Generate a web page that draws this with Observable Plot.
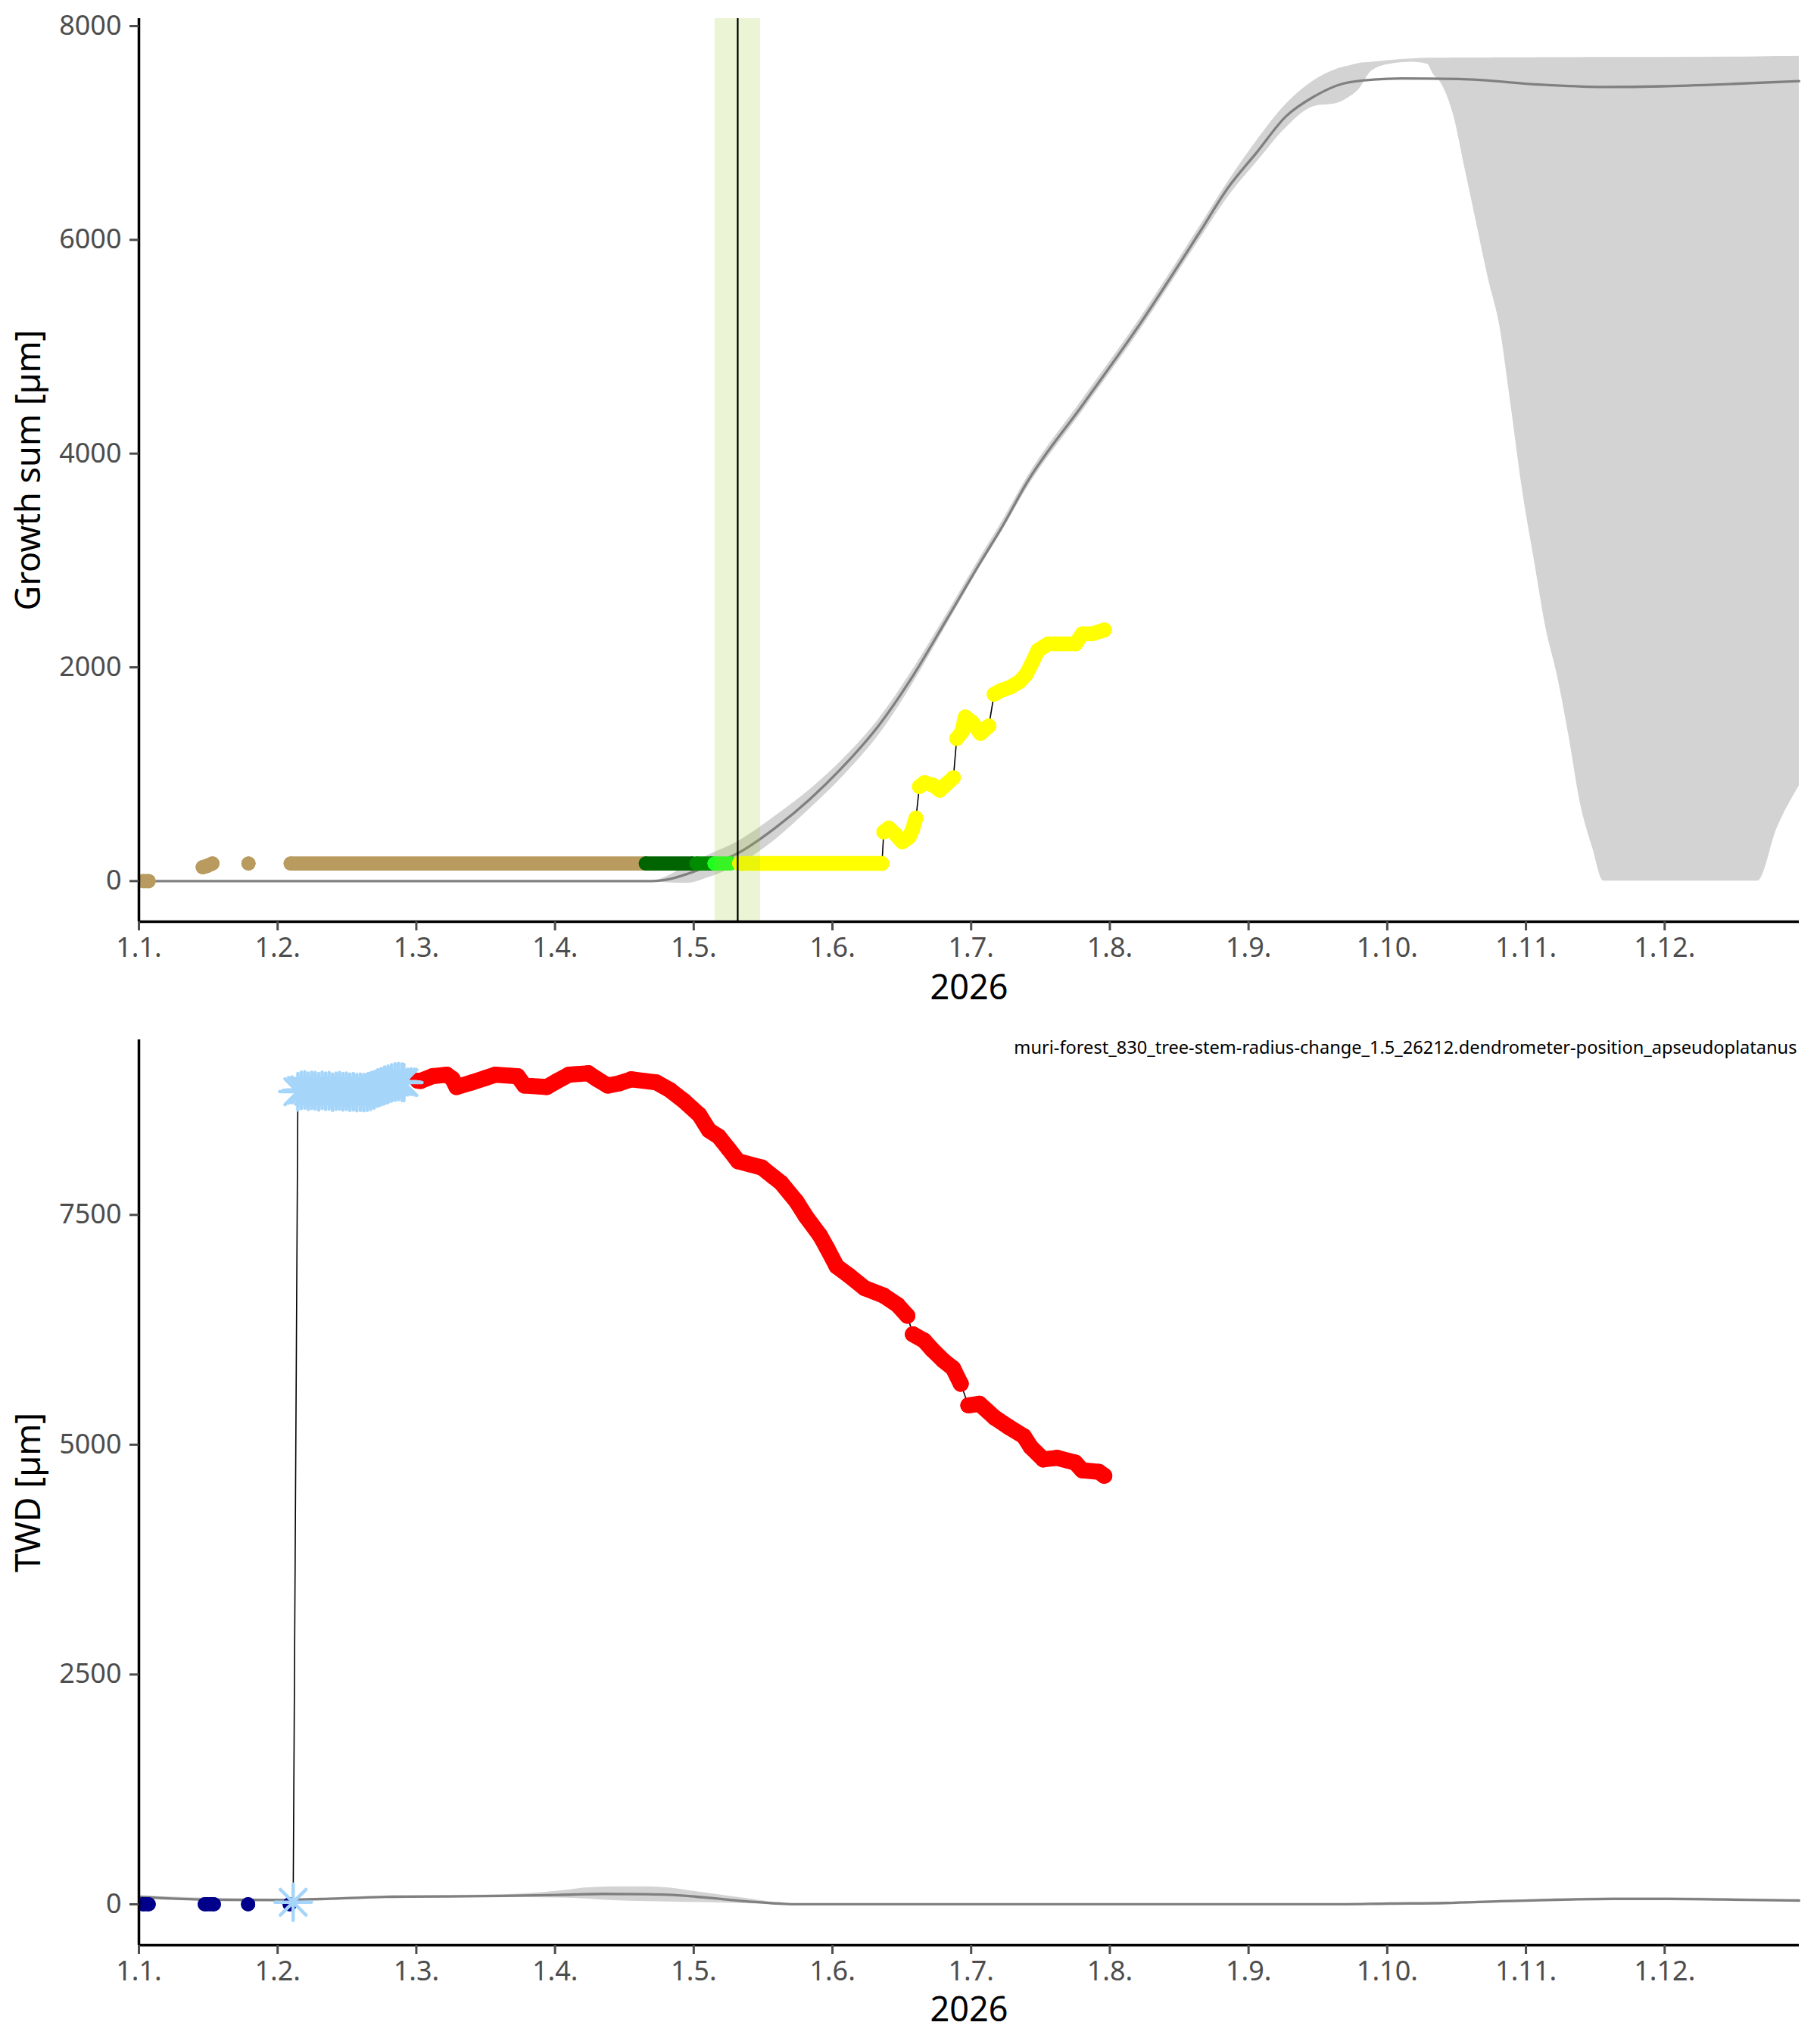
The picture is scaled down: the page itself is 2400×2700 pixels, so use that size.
<!DOCTYPE html>
<html>
<head>
<meta charset="utf-8">
<script src="https://cdn.jsdelivr.net/npm/d3@7"></script>
<script src="https://cdn.jsdelivr.net/npm/@observablehq/plot@0.6"></script>
<style>
  body { margin: 0; background: #fff; }
  #chart svg { display: block; }
</style>
</head>
<body>
<div id="chart"></div>
<script>
// ---------- shared x axis (month index, 0 = 1 Jan) ----------
const xTickValues = [0, 1, 2, 3, 4, 5, 6, 7, 8, 9, 10, 11];
const xTickLabels = ["1.1.", "1.2.", "1.3.", "1.4.", "1.5.", "1.6.", "1.7.", "1.8.", "1.9.", "1.10.", "1.11.", "1.12."];
const xTitle = "2026";

// ---------- top panel: growth sum ----------
const growthTitle = "Growth sum [µm]";
const growthTicks = [0, 2000, 4000, 6000, 8000];
const growthMean = [[0,0],[3.70,0],[3.80,12],[3.96,70],[4.10,140],[4.317,260],[4.60,510],[4.84,770],[5.09,1090],[5.33,1450],[5.58,1920],[5.82,2440],[6.07,2990],[6.23,3330],[6.39,3703],[6.81,4467],[7.22,5219],[7.64,6056],[7.85,6484],[8.06,6820],[8.27,7156],[8.47,7340],[8.68,7462],[8.90,7500],[9.10,7511],[9.52,7505],[10.14,7450],[10.56,7431],[10.98,7437],[11.50,7460],[11.97,7486]];
const growthBand = [[3.72,0,0],[3.80,-15,40],[3.96,-20,150],[4.10,30,240],[4.317,150,370],[4.60,400,620],[4.84,680,860],[5.09,1000,1160],[5.33,1360,1510],[5.58,1850,1980],[5.82,2390,2490],[6.07,2950,3040],[6.23,3290,3380],[6.39,3650,3750],[6.81,4410,4520],[7.22,5160,5270],[7.64,5990,6110],[7.85,6400,6540],[8.06,6730,6930],[8.27,7050,7270],[8.47,7248,7490],[8.64,7279,7600],[8.73,7340,7630],[8.79,7400,7650],[8.89,7584,7663],[9.02,7645,7680],[9.18,7663,7694],[9.29,7645,7700],[9.33,7554,7700],[9.39,7462,7700],[9.48,7156,7702],[9.56,6667,7702],[9.64,6178,7703],[9.73,5629,7703],[9.81,5201,7704],[9.89,4467,7704],[9.98,3612,7705],[10.06,3000,7705],[10.14,2390,7706],[10.23,1900,7706],[10.31,1350,7707],[10.39,740,7707],[10.48,312,7708],[10.56,0,7708],[11.67,0,7714],[11.81,495,7716],[11.97,892,7719]];
const growthDormant = [[[0.03,0],[0.07,0]], [[0.46,130],[0.49,142],[0.53,165]], [[0.79,165]], [[1.094,165],[3.64,165]]];
const growthPhase1 = [[[3.655,165],[3.99,165]]];
const growthPhase2 = [[[4.02,165],[4.13,165]]];
const growthPhase3 = [[[4.15,165],[4.265,165]]];
const growthActive = [
  [[4.33,165],[5.357,165]],
  [[5.370,460],[5.406,496],[5.455,437],[5.504,366],[5.553,413],[5.578,484],[5.602,590]],
  [[5.627,885],[5.663,921],[5.725,897],[5.774,850],[5.822,909],[5.872,968]],
  [[5.896,1334],[5.933,1393],[5.957,1535],[6.006,1488],[6.067,1381],[6.128,1452]],
  [[6.165,1748],[6.214,1783],[6.288,1818],[6.349,1866],[6.398,1936],[6.435,2031],[6.483,2161],[6.557,2220],[6.655,2220],[6.753,2220],[6.802,2314],[6.875,2314],[6.961,2350]]
];
const onsetWindow = [4.153, 4.481];
const onsetDate = [4.317];

// ---------- bottom panel: TWD ----------
const twdTitle = "TWD [µm]";
const twdTicks = [0, 2500, 5000, 7500];
const twdLabel = "muri-forest_830_tree-stem-radius-change_1.5_26212.dendrometer-position_apseudoplatanus";
const twdMean = [[0,82],[0.23,63],[0.63,49],[0.99,47],[1.43,63],[1.83,82],[2.23,85],[2.62,91],[3.02,102],[3.34,113],[3.66,110],[3.82,104],[4.02,82],[4.22,55],[4.42,27],[4.62,8],[4.74,0],[8.60,0],[9.02,8],[9.42,14],[9.82,33],[10.22,49],[10.62,58],[11.02,58],[11.42,52],[11.97,41]];
const twdBand = [[0,72,92],[0.99,38,56],[1.83,72,92],[2.62,75,105],[3.02,69,143],[3.22,60,178],[3.42,41,192],[3.66,30,192],[3.82,27,178],[4.02,20,137],[4.22,14,96],[4.42,5,55],[4.62,0,14],[4.74,0,0],[8.60,0,2],[9.42,6,22],[9.82,22,44],[10.22,38,60],[10.62,46,72],[11.02,46,72],[11.42,40,65],[11.97,30,52]];
const twdEarly = [[[0.03,0],[0.07,0]], [[0.475,0],[0.54,0]], [[0.787,0]], [[1.087,0]]];
const twdStars = [[1.112,22],[1.146,8840],[1.171,8855],[1.196,8860],[1.221,8845],[1.246,8855],[1.271,8850],[1.296,8840],[1.321,8855],[1.346,8845],[1.371,8850],[1.396,8835],[1.421,8845],[1.446,8850],[1.471,8840],[1.496,8845],[1.521,8835],[1.546,8840],[1.571,8830],[1.596,8835],[1.621,8830],[1.646,8835],[1.671,8845],[1.696,8860],[1.721,8880],[1.746,8895],[1.771,8910],[1.796,8920],[1.821,8935],[1.846,8945],[1.871,8950],[1.896,8945],[1.91,8940]];
const twdRed = [
  [[2.01,8960],[2.03,8957],[2.12,9010],[2.22,9025],[2.26,8980],[2.29,8891],[2.40,8941],[2.50,8990],[2.57,9025],[2.73,9009],[2.78,8907],[2.94,8891],[3.02,8960],[3.10,9025],[3.24,9041],[3.30,8980],[3.38,8907],[3.46,8930],[3.55,8975],[3.73,8941],[3.83,8857],[3.93,8739],[4.04,8588],[4.11,8420],[4.18,8352],[4.25,8220],[4.32,8084],[4.49,8016],[4.63,7848],[4.74,7647],[4.81,7480],[4.91,7277],[4.96,7142],[5.03,6941],[5.12,6840],[5.23,6705],[5.37,6622],[5.47,6520],[5.54,6403]],
  [[5.58,6201],[5.66,6134],[5.72,6033],[5.80,5915],[5.87,5831],[5.925,5663]],
  [[5.98,5428],[6.06,5445],[6.17,5294],[6.27,5193],[6.38,5092],[6.43,4975],[6.52,4840],[6.62,4857],[6.75,4806],[6.80,4722],[6.92,4705],[6.96,4662]]
];

// ---------- helpers ----------
const FONT = "'Noto Sans', 'Open Sans', sans-serif";
const pairsToRows = (pairs) => pairs.map(([m, v]) => ({m, v}));
const bandToRows = (rows) => rows.map(([m, lo, hi]) => ({m, lo, hi}));
const segRows = (segs, key) => segs.flatMap((s, i) => s.map(([m, v]) => ({m, v, seg: key + i})));

function series(segs, color, key, r) {
  const rows = segRows(segs, key);
  return [
    Plot.line(rows, {x: "m", y: "v", z: "seg", stroke: color, strokeWidth: 2 * r, strokeLinecap: "round", strokeLinejoin: "round", clip: true}),
    Plot.dot(rows, {x: "m", y: "v", r, fill: color, clip: true})
  ];
}

function frameMarks(yDomain, yTicks, yTitle, titleDy) {
  return [
    Plot.ruleX([0], {stroke: "black", strokeWidth: 3.5}),
    Plot.ruleY([yDomain[0]], {stroke: "black", strokeWidth: 3.5}),
    Plot.axisX({ticks: xTickValues, tickFormat: (d) => xTickLabels[d], tickSize: 12, tickPadding: 9, fontSize: 36, color: "#4D4D4D", strokeWidth: 3, label: null}),
    Plot.axisY({ticks: yTicks, tickFormat: (d) => String(d), tickSize: 12, tickPadding: 11, fontSize: 36, color: "#4D4D4D", strokeWidth: 3, label: null}),
    Plot.text([yTitle], {text: (d) => d, frameAnchor: "left", dx: -145, rotate: -90, fontSize: 45, textAnchor: "middle", lineAnchor: "middle", fill: "black"}),
    Plot.text([xTitle], {text: (d) => d, frameAnchor: "bottom", dy: titleDy, fontSize: 45, textAnchor: "middle", lineAnchor: "middle", fill: "black"})
  ];
}

// ---------- top plot ----------
const yTop = [-380, 8071];
const activeRows = segRows(growthActive, "a");
const topChart = Plot.plot({
  width: 2400, height: 1340,
  marginLeft: 183, marginRight: 24, marginTop: 24, marginBottom: 123,
  x: {domain: [0, 11.97]},
  y: {domain: yTop},
  style: {fontFamily: FONT, background: "white", overflow: "visible"},
  marks: [
    Plot.areaY(bandToRows(growthBand), {x: "m", y1: "lo", y2: "hi", fill: "#D3D3D3", curve: "monotone-x", clip: true}),
    Plot.line(pairsToRows(growthMean), {x: "m", y: "v", stroke: "#808080", strokeWidth: 3.3, curve: "monotone-x"}),
    Plot.line(activeRows, {x: "m", y: "v", stroke: "black", strokeWidth: 1.6}),
    ...series(growthDormant, "#B99B5F", "t", 9.4),
    ...series(growthPhase1, "#006400", "g1", 9.4),
    ...series(growthPhase2, "#008B00", "g2", 9.4),
    ...series(growthPhase3, "#1FFF1F", "g3", 9.4),
    ...series(growthActive, "#FFFF00", "y", 9.8),
    Plot.rect([onsetWindow], {x1: (d) => d[0], x2: (d) => d[1], fill: "#9ACD32", fillOpacity: 0.2}),
    Plot.ruleX(onsetDate, {stroke: "black", strokeWidth: 2.3}),
    ...frameMarks(yTop, growthTicks, growthTitle, 88)
  ]
});

// ---------- bottom plot ----------
const yBot = [-445, 9405];
const lineRows = [...pairsToRows(twdStars), ...segRows(twdRed, "r")];
const starRows = pairsToRows(twdStars);
const STAR = "#A6D5FA";
const bottomChart = Plot.plot({
  width: 2400, height: 1360,
  marginLeft: 183, marginRight: 24, marginTop: 33, marginBottom: 131,
  x: {domain: [0, 11.97]},
  y: {domain: yBot},
  style: {fontFamily: FONT, background: "white", overflow: "visible"},
  marks: [
    Plot.areaY(bandToRows(twdBand), {x: "m", y1: "lo", y2: "hi", fill: "#D3D3D3", curve: "monotone-x", clip: true}),
    Plot.line(pairsToRows(twdMean), {x: "m", y: "v", stroke: "#808080", strokeWidth: 3.3, curve: "monotone-x"}),
    Plot.line(lineRows, {x: "m", y: "v", stroke: "black", strokeWidth: 1.6}),
    ...series(twdEarly, "#00008B", "b", 9.4),
    ...series(twdRed, "#FF0000", "r", 10.6),
    Plot.dot(starRows, {x: "m", y: "v", symbol: "plus", r: 15.5, stroke: STAR, strokeWidth: 4.5, strokeLinecap: "round", clip: true}),
    Plot.dot(starRows, {x: "m", y: "v", symbol: "times", r: 15.5, stroke: STAR, strokeWidth: 4.5, strokeLinecap: "round", clip: true}),
    Plot.text([twdLabel], {text: (d) => d, frameAnchor: "top-right", dx: -3, dy: 11, fontSize: 23.6, textAnchor: "end", lineAnchor: "middle", fill: "black"}),
    ...frameMarks(yBot, twdTicks, twdTitle, 86)
  ]
});

const chart = document.getElementById("chart");
chart.appendChild(topChart);
chart.appendChild(bottomChart);
</script>
</body>
</html>
